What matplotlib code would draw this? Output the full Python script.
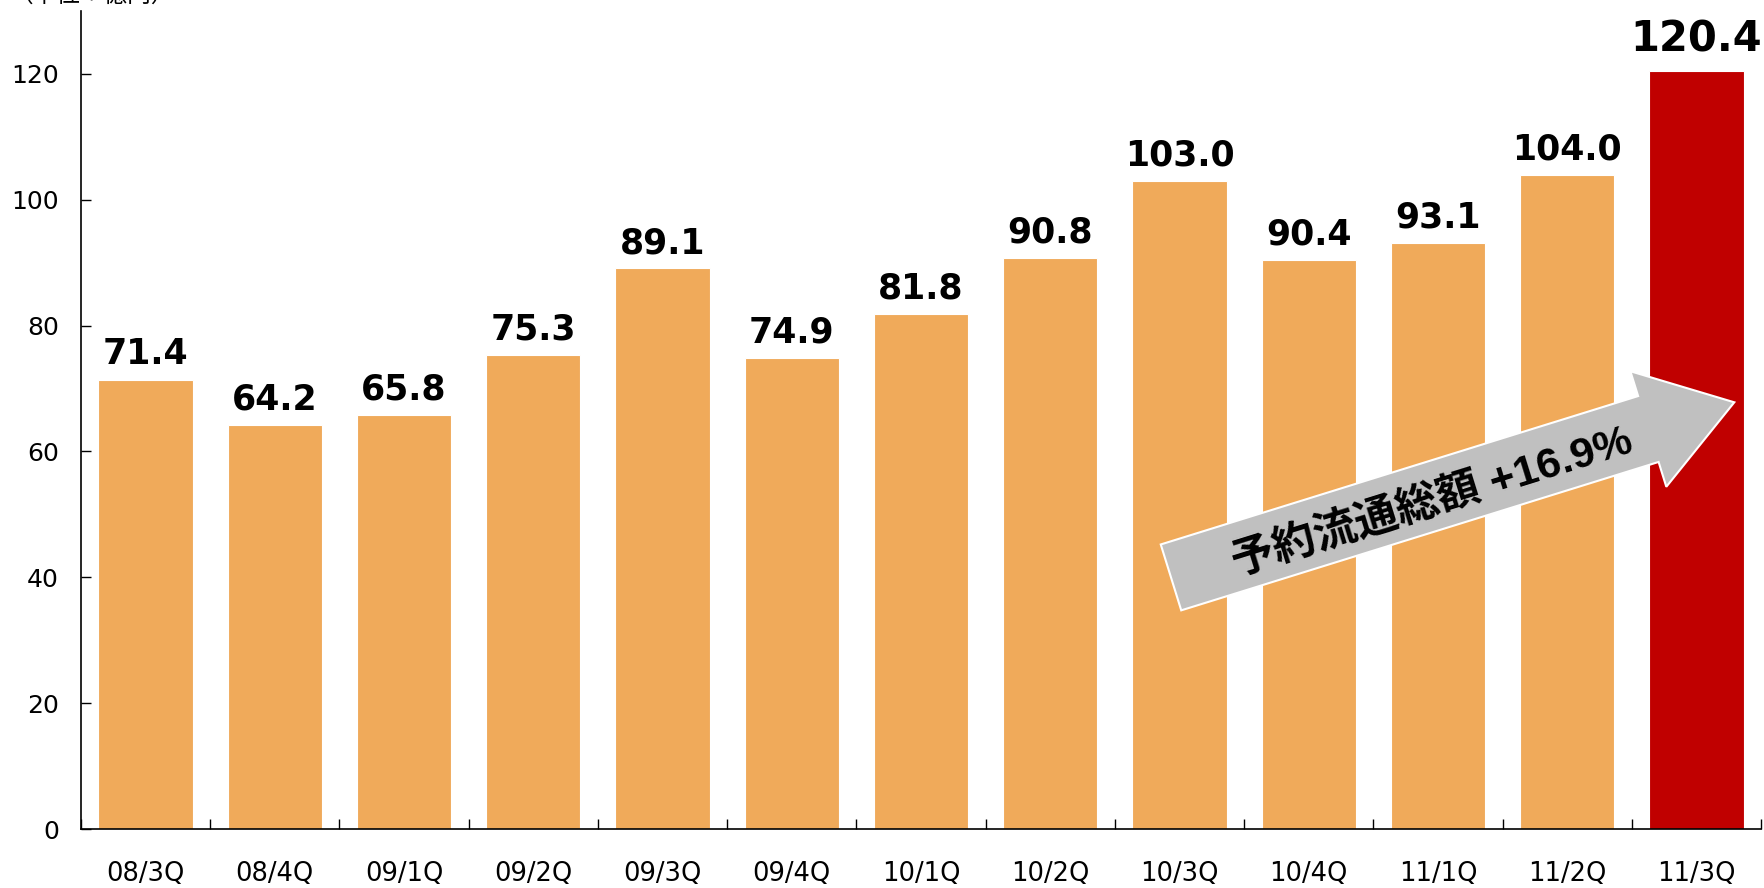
import numpy as np
import matplotlib
matplotlib.use("Agg")
import matplotlib.pyplot as plt
from matplotlib.patches import Polygon

plt.rcParams['font.family'] = ['DejaVu Sans', 'Noto Sans CJK JP']

# data
quarters = ["08/3Q", "08/4Q", "09/1Q", "09/2Q", "09/3Q", "09/4Q", "10/1Q",
            "10/2Q", "10/3Q", "10/4Q", "11/1Q", "11/2Q", "11/3Q"]
values = [71.4, 64.2, 65.8, 75.3, 89.1, 74.9, 81.8, 90.8, 103.0, 90.4, 93.1, 104.0, 120.4]
yticks = [0, 20, 40, 60, 80, 100, 120]
unit_label = "（単位：億円）"
arrow_label = "予約流通総額 +16.9%"

W, H = 1764, 888
fig = plt.figure(figsize=(W / 100, H / 100), dpi=100)
ax = fig.add_axes([81 / W, 1 - 829 / H, (1761 - 81) / W, (829 - 11) / H])

x = np.arange(len(values))
colors = ["#F0AA5A"] * (len(values) - 1) + ["#C00000"]
ax.bar(x, values, width=0.73, color=colors, edgecolor="white", linewidth=0.8, zorder=2)

ax.set_xlim(-0.5, len(values) - 0.5)
ax.set_ylim(0, 130)
ax.set_yticks(yticks)
ax.tick_params(axis="y", direction="in", length=7, width=1, labelsize=18, pad=16)
ax.set_xticks(x)
ax.set_xticklabels(quarters)
ax.tick_params(axis="x", length=0, labelsize=18.5, pad=23)
# category dividers on the x axis
ax.set_xticks(np.arange(len(values) + 1) - 0.5, minor=True)
ax.tick_params(axis="x", which="minor", direction="in", length=7, width=1)
for s in ["top", "right"]:
    ax.spines[s].set_visible(False)
for s in ["left", "bottom"]:
    ax.spines[s].set_linewidth(1.2)

# value labels
for i, v in enumerate(values):
    last = i == len(values) - 1
    ax.annotate(f"{v:.1f}", (i, v), xytext=(0, 8 if last else 6), textcoords="offset points",
                ha="center", va="bottom", fontsize=30 if last else 25, fontweight="bold")

# growth arrow (figure pixel layout, y measured from top)
tail = np.array([1171.0, 577.4])
tip = np.array([1734.3, 402.3])
d = tip - tail
u = d / np.hypot(*d)
n = np.array([u[1], -u[0]])  # perpendicular, pointing "up" on screen
shaft_w, head_w, head_l = 69, 121, 90
base = tip - u * head_l
pts = [tail + n * shaft_w / 2, base + n * shaft_w / 2, base + n * head_w / 2, tip,
       base - n * head_w / 2, base - n * shaft_w / 2, tail - n * shaft_w / 2]
pts = [(p[0] / W, 1 - p[1] / H) for p in pts]
fig.patches.append(Polygon(pts, closed=True, transform=fig.transFigure,
                           facecolor="#C0C0C0", edgecolor="white", linewidth=1.5, zorder=5))
angle = np.degrees(np.arctan2(-d[1], d[0]))
fig.text(1432 / W, 1 - 503 / H, arrow_label, rotation=angle, rotation_mode="anchor",
         ha="center", va="center", fontsize=31, fontweight="bold",
         family=['Liberation Sans', 'Noto Sans CJK JP'], zorder=6)

# unit label, cut off at the top edge as in the source chart
fig.text(10 / W, 1 - 2 / H, unit_label, ha="left", va="baseline", fontsize=17,
         family=['Noto Sans CJK JP', 'DejaVu Sans'])

fig.savefig("out.png", dpi=100)
